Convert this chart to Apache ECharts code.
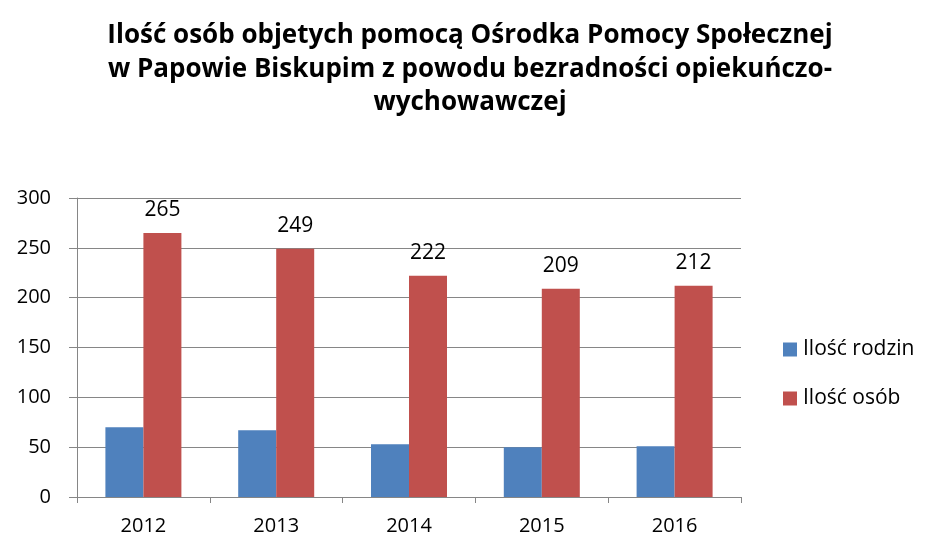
<!DOCTYPE html>
<html>
<head>
<meta charset="utf-8">
<script src="https://cdn.jsdelivr.net/npm/echarts@6/dist/echarts.min.js"></script>
<style>
  html, body { margin: 0; padding: 0; background: #fff; }
  #chart { width: 930px; height: 541px; }
</style>
</head>
<body>
<div id="chart"></div>
<script>
const years = ['2012', '2013', '2014', '2015', '2016']
const families = [70, 67, 53, 50, 51]
const persons = [265, 249, 222, 209, 212]
const yTicks = { min: 0, max: 300, interval: 50 }

const font = "'Open Sans', 'Noto Sans', sans-serif"
const axisGray = '#868686'

const chart = echarts.init(document.getElementById('chart'), null, { renderer: 'canvas' })

const option = {
  animation: false,
  title: {
    text: 'Ilość osób objetych pomocą Ośrodka Pomocy Społecznej\nw Papowie Biskupim z powodu bezradności opiekuńczo-\nwychowawczej',
    left: 465,
    top: 14,
    textAlign: 'center',
    textStyle: {
      fontFamily: font,
      fontWeight: 'bold',
      fontSize: 26,
      lineHeight: 33.5,
      color: '#000'
    }
  },
  legend: {
    orient: 'vertical',
    left: 778,
    top: 334,
    itemWidth: 14,
    itemHeight: 14,
    itemGap: 28,
    icon: 'rect',
    textStyle: { fontFamily: font, fontSize: 21, color: '#000', padding: [0, 0, 0, 1] },
    data: ['Ilość rodzin', 'Ilość osób']
  },
  grid: {
    left: 77,
    right: 189,
    top: 198,
    bottom: 44
  },
  xAxis: {
    type: 'category',
    data: years,
    axisLine: { lineStyle: { color: axisGray, width: 1 } },
    axisTick: { show: true, length: 6, lineStyle: { color: axisGray } },
    axisLabel: { fontFamily: font, fontSize: 20, color: '#000', margin: 19 }
  },
  yAxis: {
    type: 'value',
    min: yTicks.min,
    max: yTicks.max,
    interval: yTicks.interval,
    axisLine: { show: true, lineStyle: { color: axisGray, width: 1 } },
    axisTick: { show: true, length: 8, lineStyle: { color: axisGray } },
    splitLine: { lineStyle: { color: axisGray, width: 1 } },
    axisLabel: { fontFamily: font, fontSize: 20, color: '#000', margin: 26 }
  },
  series: [
    {
      name: 'Ilość rodzin',
      type: 'bar',
      data: families,
      barWidth: 38,
      barGap: '0%',
      itemStyle: { color: '#4f81bd' }
    },
    {
      name: 'Ilość osób',
      type: 'bar',
      data: persons,
      barWidth: 38,
      itemStyle: { color: '#c0504d' },
      label: {
        show: true,
        position: 'top',
        distance: 12,
        fontFamily: font,
        fontSize: 21,
        color: '#000'
      }
    }
  ]
}

chart.setOption(option)
</script>
</body>
</html>
